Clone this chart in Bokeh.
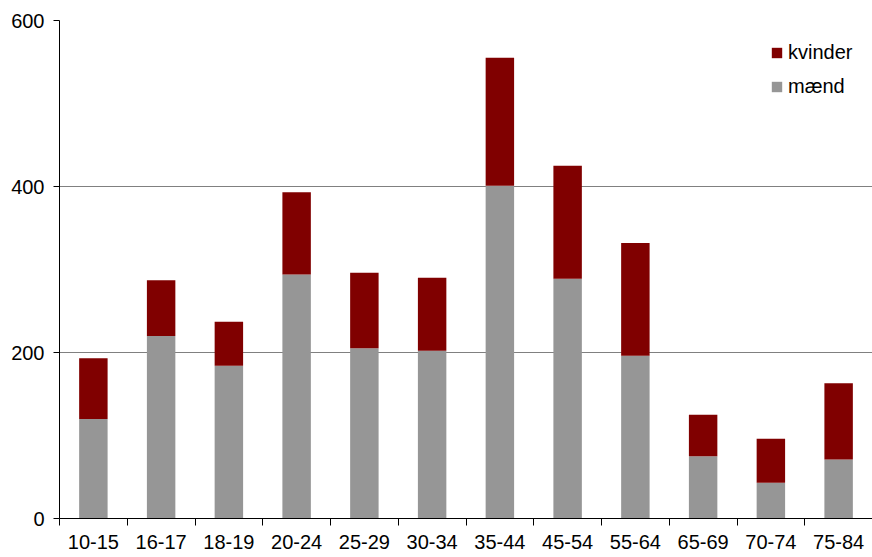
from bokeh.plotting import figure
from bokeh.models import (ColumnDataSource, FixedTicker, Legend, LegendItem, Range1d)
from bokeh.embed import file_html
from bokeh.resources import INLINE

categories = ["10-15", "16-17", "18-19", "20-24", "25-29", "30-34",
              "35-44", "45-54", "55-64", "65-69", "70-74", "75-84"]
maend = [120, 220, 184, 294, 205, 202, 401, 289, 196, 75, 43, 71]
totals = [193, 287, 237, 393, 296, 290, 555, 425, 332, 125, 96, 163]
kvinder = [t - m for t, m in zip(totals, maend)]
y_ticks = [0, 200, 400, 600]

xpos = [i + 0.5 for i in range(len(categories))]
src = ColumnDataSource(dict(x=xpos, maend=maend, kvinder=kvinder))

FONT = "Liberation Sans"

p = figure(width=872, height=557, output_backend="svg", toolbar_location=None,
           x_range=Range1d(0, len(categories)), y_range=Range1d(0, 600),
           min_border_left=59, min_border_right=0, min_border_top=20,
           min_border_bottom=39)
p.outline_line_color = None

r = p.vbar_stack(["maend", "kvinder"], x="x", width=0.42, source=src,
                 color=["#969696", "#800000"], line_color=None)

# x axis: labels at centers, tick marks at category boundaries
xa = p.xaxis[0]
xa.ticker = FixedTicker(ticks=xpos, minor_ticks=list(range(len(categories) + 1)))
xa.major_label_overrides = {x: c for x, c in zip(xpos, categories)}
xa.major_tick_line_color = None
xa.minor_tick_line_color = "black"
xa.minor_tick_out = 7
xa.minor_tick_in = 0
xa.axis_line_color = "black"
xa.major_label_standoff = 9
xa.major_label_text_font = FONT
xa.major_label_text_font_size = "20px"
xa.major_label_text_color = "black"

ya = p.yaxis[0]
ya.ticker = FixedTicker(ticks=y_ticks)
ya.major_tick_out = 6
ya.major_tick_in = 0
ya.minor_tick_line_color = None
ya.axis_line_color = "black"
ya.major_tick_line_color = "black"
ya.major_label_standoff = 9
ya.major_label_text_font = FONT
ya.major_label_text_font_size = "20px"
ya.major_label_text_color = "black"

p.xgrid.grid_line_color = None
p.ygrid.ticker = FixedTicker(ticks=y_ticks)
p.ygrid.grid_line_color = "#808080"

legend = Legend(items=[LegendItem(label="kvinder", renderers=[r[1]]),
                       LegendItem(label="mænd", renderers=[r[0]])],
                location=(711, 420), padding=0, margin=0,
                border_line_color=None, background_fill_alpha=0,
                glyph_width=13, glyph_height=13, label_standoff=5, spacing=11,
                label_text_font=FONT, label_text_font_size="20px",
                label_text_color="black")
p.add_layout(legend)

open("out.html", "w").write(file_html(p, INLINE))
